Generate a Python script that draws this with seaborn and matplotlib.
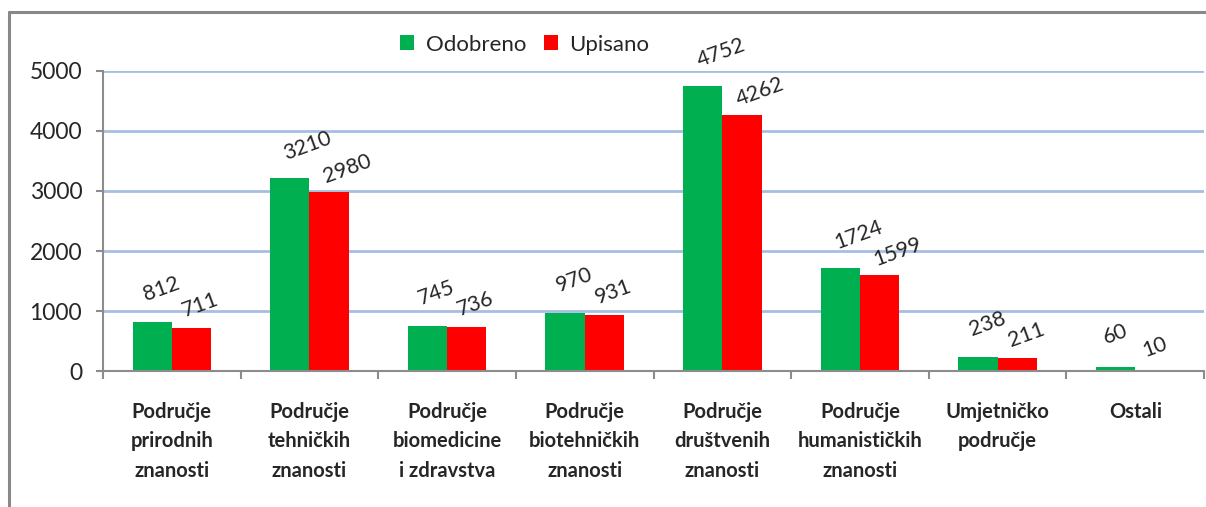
import pandas as pd
import seaborn as sns
import matplotlib.pyplot as plt
from matplotlib.lines import Line2D

categories = [
    "Područje\nprirodnih\nznanosti",
    "Područje\ntehničkih\nznanosti",
    "Područje\nbiomedicine\ni zdravstva",
    "Područje\nbiotehničkih\nznanosti",
    "Područje\ndruštvenih\nznanosti",
    "Područje\nhumanističkih\nznanosti",
    "Umjetničko\npodručje",
    "Ostali",
]
odobreno = [812, 3210, 745, 970, 4752, 1724, 238, 60]
upisano = [711, 2980, 736, 931, 4262, 1599, 211, 10]
series = ["Odobreno", "Upisano"]
colors = ["#00B050", "#FF0000"]

df = pd.DataFrame({
    "Područje": categories * 2,
    "Broj": odobreno + upisano,
    "Serija": [series[0]] * len(categories) + [series[1]] * len(categories),
})

sns.set_style("white")
plt.rcParams["font.family"] = ["Lato", "DejaVu Sans"]

fig = plt.figure(figsize=(12.06, 5.07), dpi=100)
ax = fig.add_axes([0.0854, 0.2682, 0.913, 0.5918])

sns.barplot(
    data=df, x="Područje", y="Broj", hue="Serija",
    hue_order=series, palette=colors, width=0.57, gap=0,
    saturation=1, linewidth=0, ax=ax,
)

ax.set_ylim(0, 5000)
ax.set_xlim(-0.5, len(categories) - 0.5)
ax.set_yticks(range(0, 5001, 1000))
ax.set_xlabel("")
ax.set_ylabel("")

# grid
ax.yaxis.grid(True, color="#A7BEE3", linewidth=2)
ax.set_axisbelow(True)

for side in ["top", "right"]:
    ax.spines[side].set_visible(False)
for side in ["left", "bottom"]:
    ax.spines[side].set_color("#8C8C8C")
    ax.spines[side].set_linewidth(1.5)

ax.tick_params(axis="y", left=True, length=5, width=1.5, color="#8C8C8C",
               labelsize=16.5, pad=10)
ax.set_xticks([i - 0.5 for i in range(len(categories) + 1)], minor=True)
ax.tick_params(axis="x", which="major", length=0, labelsize=14.5, pad=22)
ax.tick_params(axis="x", which="minor", bottom=True, length=6, width=1.5,
               color="#8C8C8C")
for lab in ax.get_xticklabels():
    lab.set_fontweight("bold")
    lab.set_linespacing(1.6)

# value labels, rotated like in the original
dys = [33, 23]
for cont, dy in zip(ax.containers, dys):
    for bar in cont:
        h = bar.get_height()
        txt = f"{int(round(h))}"
        dx = (len(txt) - 2) * 9
        ax.annotate(txt, (bar.get_x() + bar.get_width() / 2, h),
                    xytext=(dx, dy), textcoords="offset pixels",
                    rotation=20, rotation_mode="anchor",
                    ha="center", va="center", fontsize=15.5)

sns.move_legend(ax, "center", bbox_to_anchor=(0.435, 0.912),
                bbox_transform=fig.transFigure, ncol=2, frameon=False,
                title=None, fontsize=16, handlelength=0.65, handleheight=0.65,
                handletextpad=0.5, columnspacing=0.8)

# outer frame (left and top only)
fig.add_artist(Line2D([0.0075, 0.0075], [0.0, 0.977], color="#888888",
                      linewidth=2.2, transform=fig.transFigure))
fig.add_artist(Line2D([0.0075, 1.0], [0.977, 0.977], color="#888888",
                      linewidth=2.2, transform=fig.transFigure))

fig.savefig("out.png", dpi=100)
